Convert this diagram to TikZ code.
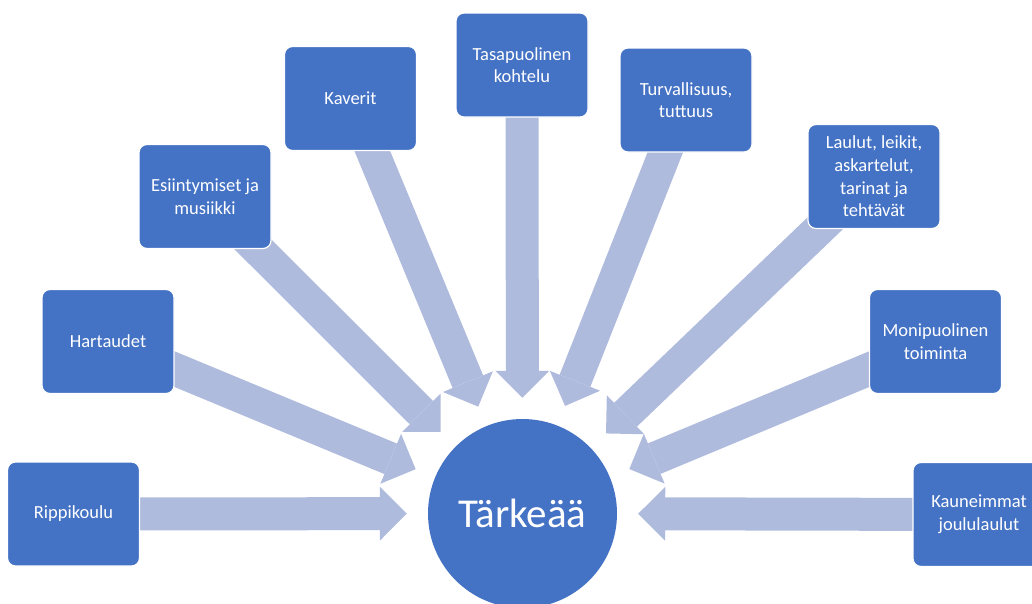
\documentclass[tikz,border=0pt]{standalone}
\usepackage{fontspec}
\setmainfont{Carlito}
\usetikzlibrary{arrows.meta, backgrounds}
\definecolor{boxblue}{HTML}{4472C4}
\definecolor{arrowblue}{HTML}{AFBBDD}

\begin{document}
\begin{tikzpicture}[x=1pt, y=-1pt,
        box/.style={draw=white, line width=1.2pt, fill=boxblue, rounded corners=8pt,
            minimum width=132pt, minimum height=104pt, text=white, align=center,
            font=\fontsize{18.5}{22.7}\selectfont},
        bigarrow/.style={draw=arrowblue, line width=33pt, shorten >=21pt,
            -{Triangle[length=27pt, width=54pt, line width=0pt]}}]
        \useasboundingbox (0, 0) rectangle (1032, 603);
        \clip (0, 0) rectangle (1032, 603);
        \node[circle, fill=boxblue, minimum size=189pt, inner sep=0pt, text=white,
            font=\fontsize{41}{48}\selectfont] (T) at (522.5, 513.5) {Tärkeää};
        \node[box] (A) at (73.5, 514) {Rippikoulu};
        \node[box] (B) at (108, 341.5) {Hartaudet};
        \node[box] (C) at (205, 196.5) {Esiintymiset ja\\musiikki};
        \node[box] (D) at (350.5, 98.5) {Kaverit};
        \node[box] (E) at (522, 65) {Tasapuolinen\\kohtelu};
        \node[box] (F) at (686, 100) {Turvallisuus,\\tuttuus};
        \node[box] (G) at (874, 176.5) {Laulut, leikit,\\askartelut,\\tarinat ja\\tehtävät};
        \node[box] (H) at (935.5, 341.5) {Monipuolinen\\toiminta};
        \node[box] (I) at (979, 514.5) {Kauneimmat\\joululaulut};
        \begin{pgfonlayer}{background}
            \foreach \n in {A, B, C, D, E, F, G, H, I}
                \draw[bigarrow] (\n.center) -- (T);
        \end{pgfonlayer}
    \end{tikzpicture}
\end{document}
